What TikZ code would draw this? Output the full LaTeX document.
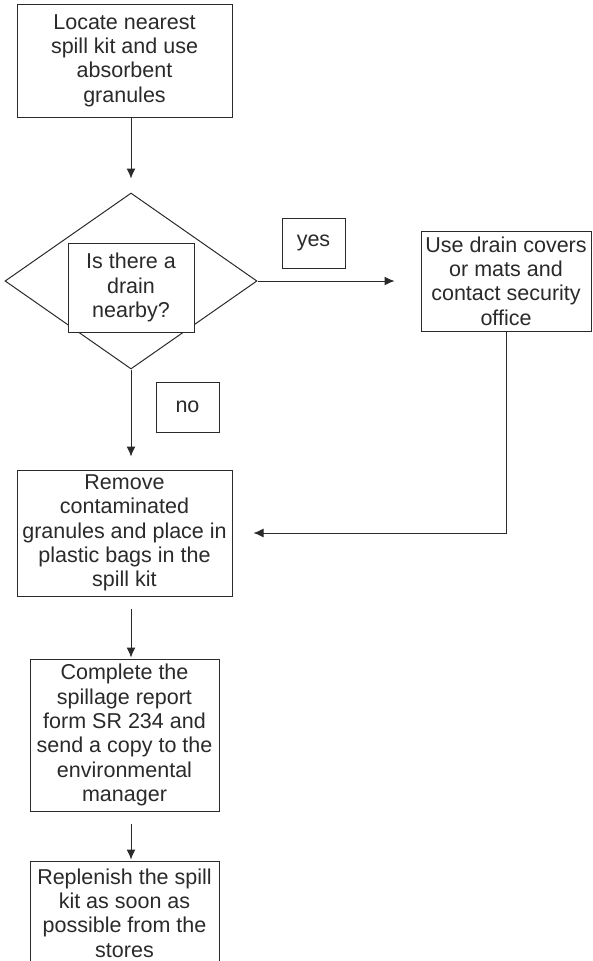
\documentclass[tikz,border=0pt]{standalone}
\usepackage{fontspec}
\setmainfont{Liberation Sans}
\usetikzlibrary{arrows.meta,shapes.geometric,calc}
\definecolor{ink}{HTML}{2A2A2A}
\begin{document}
\begin{tikzpicture}[x=1pt,y=-1pt,
  every node/.style={font=\fontsize{21.5}{24.3}\selectfont, text=ink},
  stepbox/.style={draw=ink, line width=1pt, inner sep=0pt, align=center, fill=white},
  tagbox/.style={stepbox, minimum width=63pt, minimum height=50pt},
  arr/.style={draw=ink, line width=1pt, -{Latex[length=10pt,width=9pt]}}]
\useasboundingbox (0,0) rectangle (592,961);

% process boxes
\node[stepbox, minimum width=215pt, minimum height=113pt] (locate) at (124.5,60.5)
  {Locate nearest\\spill kit and use\\absorbent\\granules};

% decision
\node[draw=ink, line width=1pt, diamond, inner sep=0pt,
  minimum width=252pt, minimum height=176pt] (dec) at (131,281) {};
\node[stepbox, minimum width=126pt, minimum height=89pt] (q) at (131,287.5)
  {Is there a\\drain\\nearby?};

\node[tagbox] (yes) at (313.5,243) {yes};
\node[tagbox] (no) at (187.5,407) {no};

\node[stepbox, minimum width=170pt, minimum height=100pt] (cover) at (506,281)
  {Use drain covers\\or mats and\\contact security\\office};

\node[stepbox, minimum width=215pt, minimum height=126pt] (remove) at (124.5,533)
  {Remove\\contaminated\\granules and place in\\plastic bags in the\\spill kit};

\node[stepbox, minimum width=189pt, minimum height=152pt] (report) at (124.5,735)
  {Complete the\\spillage report\\form SR 234 and\\send a copy to the\\environmental\\manager};

\node[stepbox, minimum width=189pt, minimum height=104pt] (refill) at (124.5,913)
  {Replenish the spill\\kit as soon as\\possible from the\\stores};

% connectors
\draw[arr, shorten >=14pt] (locate.south -| dec.north) -- (dec.north);
\draw[arr, shorten >=26pt] (dec.east) -- (cover.west |- dec.east);
\draw[arr, shorten >=13pt] (dec.south) -- (remove.north -| dec.south);
\draw[arr, shorten >=21pt] (cover.south) |- (remove.east);
\draw[arr, shorten <=12pt, shorten >=1pt] (remove.south -| dec.south) -- (report.north -| dec.south);
\draw[arr, shorten <=12pt, shorten >=1pt] (report.south -| dec.south) -- (refill.north -| dec.south);
\end{tikzpicture}
\end{document}
